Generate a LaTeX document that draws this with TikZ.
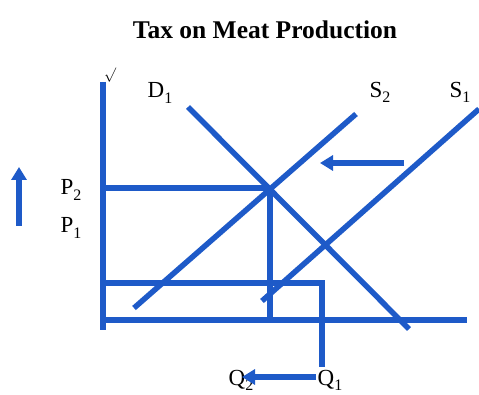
\documentclass[tikz,border=0pt]{standalone}
\usepackage{fontspec}
\setmainfont{Liberation Serif}
\usetikzlibrary{arrows.meta}
\definecolor{cblue}{RGB}{30,90,200}
\newcommand{\lowdigit}[1]{\raisebox{-0.22em}{\fontsize{16}{16}\selectfont #1}}
\tikzset{
  curve/.style={draw=cblue,line width=5.5pt},
  lbl/.style={font=\fontsize{23}{23}\selectfont,inner sep=0pt},
  shiftarrow/.style={draw=cblue,line width=5.5pt,-{Triangle[length=13pt,width=15pt]}}
}
\begin{document}
\begin{tikzpicture}[x=1pt,y=-1pt]
\useasboundingbox (0,0) rectangle (479,395);
\node[font=\bfseries\fontsize{25.5}{25.5}\selectfont] (title) at (265,30) {Tax on Meat Production};
% axes
\coordinate (ytop) at (103,82);
\coordinate (ybot) at (103,330);
\coordinate (xl) at (103,320);
\coordinate (xr) at (467,320);
\draw[curve] (ytop) -- (ybot);
\draw[curve] (xl) -- (xr);
\node[font=\fontsize{15}{15}\selectfont,inner sep=0pt] (tick) at (110,75) {$\surd$};
% equilibrium
\coordinate (E) at (270,188);
\coordinate (p2) at (103,188);
\coordinate (q2) at (270,320);
\draw[curve] (p2) -- (E);
\draw[curve] (E) -- (q2);
% P1 line
\coordinate (p1) at (103,283);
\coordinate (c1) at (322,283);
\coordinate (c2) at (322,367);
\draw[curve] (p1) -- (c1) -- (c2);
% curves
\coordinate (d1a) at (188,107);
\coordinate (d1b) at (409,329);
\draw[curve] (d1a) -- (d1b);
\coordinate (s2a) at (134,308);
\coordinate (s2b) at (356,114);
\draw[curve] (s2a) -- (s2b);
\coordinate (s1a) at (262,301);
\coordinate (s1b) at (479,109);
\draw[curve] (s1a) -- (s1b);
% shift arrow
\coordinate (sha) at (404,163);
\coordinate (shb) at (320,163);
\draw[shiftarrow] (sha) -- (shb);
% up arrow
\coordinate (ua) at (19,226);
\coordinate (ub) at (19,167);
\draw[shiftarrow] (ua) -- (ub);
% labels
\node[lbl] (D1) at (160,93) {D\lowdigit{1}};
\node[lbl] (S2) at (380,92) {S\lowdigit{2}};
\node[lbl] (S1) at (460,92) {S\lowdigit{1}};
\node[lbl] (P2) at (71,190) {P\lowdigit{2}};
\node[lbl] (P1) at (71,228) {P\lowdigit{1}};
\node[lbl] (Q2) at (241,380) {Q\lowdigit{2}};
\node[lbl] (Q1) at (330,380) {Q\lowdigit{1}};
\coordinate (qa) at (316,377);
\coordinate (qb) at (242,377);
\draw[shiftarrow] (qa) -- (qb);
\end{tikzpicture}
\end{document}
